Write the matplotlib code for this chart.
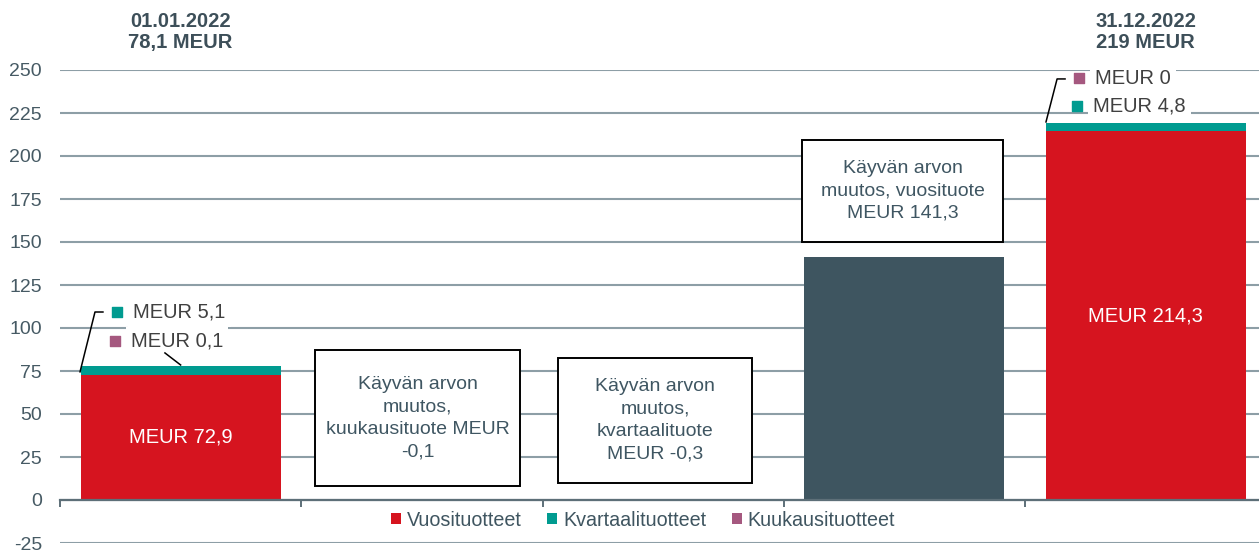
import matplotlib
matplotlib.use("Agg")
import matplotlib.pyplot as plt
from matplotlib.patches import Rectangle
import numpy as np

# data
categories = ["01.01.2022", "kuukausituote", "kvartaalituote", "vuosituote", "31.12.2022"]
vuosi = [72.9, 0, 0, 0, 214.3]
kvartaali = [5.1, 0, 0, 0, 4.8]
kuukausi = [0.1, 0, 0, 0, 0.0]
muutos = [0, -0.1, -0.3, 141.3, 0]
top_titles = ["01.01.2022\n78,1 MEUR", "31.12.2022\n219 MEUR"]
box_texts = ["Käyvän arvon\nmuutos,\nkuukausituote MEUR\n-0,1",
             "Käyvän arvon\nmuutos,\nkvartaalituote\nMEUR -0,3",
             "Käyvän arvon\nmuutos, vuosituote\nMEUR 141,3"]
legend_labels = ["Vuosituotteet", "Kvartaalituotteet", "Kuukausituotteet"]
yticks = [-25, 0, 25, 50, 75, 100, 125, 150, 175, 200, 225, 250]

RED = "#d6141f"
TEAL = "#009b90"
PURPLE = "#a5587f"
DARK = "#3e5560"
GRID = "#8d9ea6"

plt.rcParams["font.family"] = ["Liberation Sans", "DejaVu Sans"]


def fmt(v):
    if v == 0:
        return "MEUR 0"
    return "MEUR " + f"{v:.1f}".replace(".", ",")


fig = plt.figure(figsize=(12.59, 5.51), dpi=100)
ax = fig.add_axes([60 / 1259, 8 / 551, 1206.25 / 1259, 473 / 551])

x = np.arange(len(categories))
w = 0.83
vuosi = np.array(vuosi)
kvartaali = np.array(kvartaali)
kuukausi = np.array(kuukausi)

b1 = ax.bar(x, vuosi, w, color=RED, zorder=3, label=legend_labels[0])
b2 = ax.bar(x, kvartaali, w, bottom=vuosi, color=TEAL, zorder=3, label=legend_labels[1])
b3 = ax.bar(x, kuukausi, w, bottom=vuosi + kvartaali, color=PURPLE, zorder=3, label=legend_labels[2])
ax.bar(x, muutos, w, color=DARK, zorder=3)

ax.set_xlim(-0.5, 4.5)
ax.set_ylim(-25, 250)
ax.set_yticks(yticks)
ax.set_yticklabels([str(t) for t in yticks])
ax.yaxis.grid(True, color=GRID, linewidth=1.5, zorder=0)
ax.set_axisbelow(True)
ax.tick_params(axis="y", length=0, pad=13, labelsize=14, labelcolor="#465a64")
for s in ["top", "right", "left"]:
    ax.spines[s].set_visible(False)
ax.spines["bottom"].set_position(("data", 0))
ax.spines["bottom"].set_color("#5d6f78")
ax.spines["bottom"].set_linewidth(1.6)
ax.spines["bottom"].set_zorder(4)
ax.set_xticks(np.arange(-0.5, 4.6, 1.0))
ax.set_xticklabels([])
ax.tick_params(axis="x", direction="out", length=5, width=1.4, color="#5d6f78")

# labels inside the big bars
for i in [0, 4]:
    ax.text(x[i], vuosi[i] / 2, fmt(vuosi[i]), ha="center", va="center",
            color="white", fontsize=14.5, zorder=5)

# top titles
ax.text(x[0], 272, top_titles[0], ha="center", va="center", fontsize=14.5,
        fontweight="bold", color="#3d4f59", linespacing=1.15, clip_on=False)
ax.text(x[4], 272, top_titles[1], ha="center", va="center", fontsize=14.5,
        fontweight="bold", color="#3d4f59", linespacing=1.15, clip_on=False)

# callout labels with markers
callouts = [
    (-0.197, 109.3, kvartaali[0], TEAL),
    (-0.206, 92.4, kuukausi[0], PURPLE),
    (3.790, 245.3, kuukausi[4], PURPLE),
    (3.782, 229.1, kvartaali[4], TEAL),
]
for tx, ty, v, c in callouts:
    ax.text(tx, ty, fmt(v), ha="left", va="center", fontsize=14.5, color="#404040",
            zorder=5, bbox=dict(boxstyle="square,pad=0.25", fc="white", ec="none"))
    ax.scatter([tx - 0.066], [ty], marker="s", s=55, color=c, zorder=6)

# leader lines
ax.plot([-0.417, -0.355, -0.322], [74.5, 109.3, 109.3], color="black", lw=1.1, zorder=6)
ax.plot([-0.065, 0.0], [85.5, 78.5], color="black", lw=1.1, zorder=6)
ax.plot([3.587, 3.633, 3.666], [219.8, 244.8, 244.8], color="black", lw=1.1, zorder=6)

# boxes with change texts
boxes = [
    (0.982, 47.7, 0.85, 79.0),
    (1.966, 46.2, 0.804, 72.7),
    (2.992, 179.7, 0.833, 59.3),
]
for (cx, cy, bw, bh), t in zip(boxes, box_texts):
    ax.add_patch(Rectangle((cx - bw / 2, cy - bh / 2), bw, bh, facecolor="white",
                           edgecolor="black", linewidth=1.4, zorder=5))
    ax.text(cx, cy, t, ha="center", va="center", fontsize=14, color="#3f5662",
            linespacing=1.42, zorder=6)

fig.legend(handles=[b1, b2, b3], labels=legend_labels, loc="center",
           bbox_to_anchor=(643 / 1259, 1 - 520 / 551), ncol=3, frameon=False,
           fontsize=14.2, handlelength=0.52, handleheight=0.52, handletextpad=0.28,
           columnspacing=1.3, labelcolor="#3f5560")

fig.savefig("out.png", dpi=100)
